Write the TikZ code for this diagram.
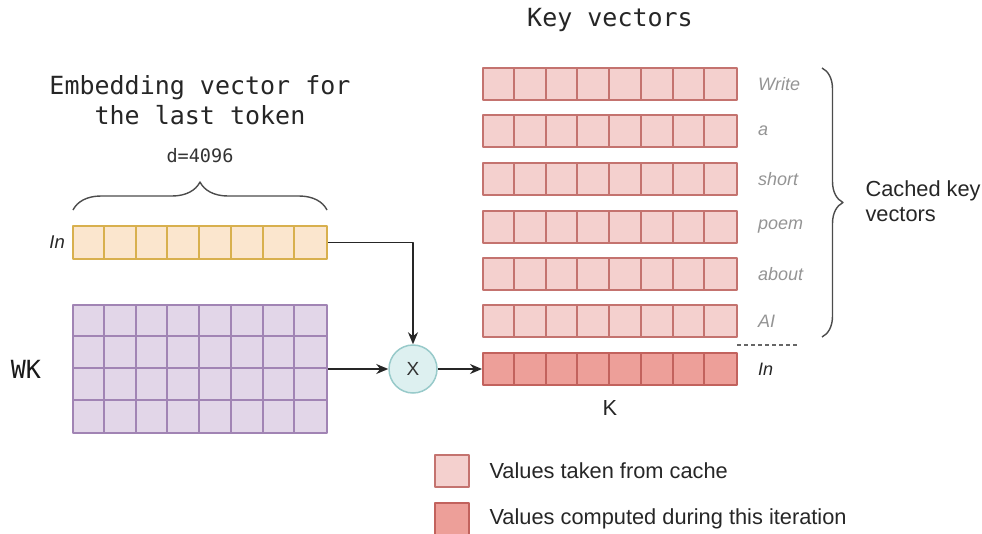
\documentclass[tikz,border=0pt]{standalone}
\usepackage{fontspec}
\setmainfont{Liberation Sans}
\setmonofont{DejaVu Sans Mono}
\usetikzlibrary{arrows.meta,decorations.pathreplacing,calc,positioning}

\definecolor{inFill}{HTML}{FBE6CE}
\definecolor{inLine}{HTML}{D8B04E}
\definecolor{wkFill}{HTML}{E2D6E8}
\definecolor{wkLine}{HTML}{A184B4}
\definecolor{cacheFill}{HTML}{F4D0CE}
\definecolor{cacheLine}{HTML}{C4736F}
\definecolor{newFill}{HTML}{ED9F99}
\definecolor{newLine}{HTML}{C2625D}
\definecolor{multFill}{HTML}{DDF0F0}
\definecolor{multLine}{HTML}{98CACA}

\begin{document}
\begin{tikzpicture}[x=1pt, y=-1pt, line join=round,
    vec/.style={draw, line width=2pt, minimum width=254pt, minimum height=32pt, inner sep=0pt},
    invec/.style={vec, fill=inFill, draw=inLine},
    cached/.style={vec, fill=cacheFill, draw=cacheLine},
    fresh/.style={vec, fill=newFill, draw=newLine},
    token/.style={text=black!42, font=\fontsize{18}{20}\selectfont\itshape, inner sep=0pt},
    title/.style={font=\fontsize{25}{30}\selectfont\ttfamily, align=center, text=black!85},
    plain/.style={font=\fontsize{21.8}{25}\selectfont},
    arr/.style={-{Stealth[length=12pt,width=10pt]}, line width=1.7pt, black!85}]
  \useasboundingbox (0,0) rectangle (982,533);

  % input vector and its brace
  \node[invec, minimum height=33pt] (in) at (200,242.5) {};
  \foreach \c in {1,...,7}
    \draw[inLine, line width=2pt] ($(in.north west)+(\c*31.75,0)$) -- ($(in.south west)+(\c*31.75,0)$);
  \node[font=\fontsize{18.5}{20}\selectfont\itshape, left=7pt of in, inner sep=0pt, text=black!85] (inlbl) {In};
  \draw[black!70, line width=1.4pt, decorate, decoration={brace, amplitude=28pt}]
    (73,210) -- (327,210);
  \node[font=\fontsize{18.5}{20}\selectfont\ttfamily, text=black!80] (dim) at (200,156) {d=4096};
  \node[title] (emb) at (200,100) {Embedding vector for\\the last token};

  % weight matrix
  \node[vec, fill=wkFill, draw=wkLine, minimum height=128pt] (wk) at (200,369) {};
  \foreach \c in {1,...,7}
    \draw[wkLine, line width=2pt] ($(wk.north west)+(\c*31.75,0)$) -- ($(wk.south west)+(\c*31.75,0)$);
  \foreach \r in {1,2,3}
    \draw[wkLine, line width=2pt] ($(wk.north west)+(0,\r*32)$) -- ($(wk.north east)+(0,\r*32)$);
  \node[font=\fontsize{25}{30}\selectfont\ttfamily, text=black!90] (wklbl) at (26,369) {WK};

  % multiplication
  \node[circle, draw=multLine, fill=multFill, line width=1.5pt, minimum size=48pt,
        font=\fontsize{19}{20}\selectfont, text=black!80] (mult) at (413,369) {X};

  % key vectors
  \node[title] (keys) at (610,20) {Key vectors};
  \foreach \n/\y/\w in {1/84/Write, 2/131/a, 3/179/short, 4/227/poem, 5/274/about, 6/321/AI} {
    \node[cached] (key\n) at (610,\y) {};
    \foreach \c in {1,...,7}
      \draw[cacheLine, line width=2pt] ($(key\n.north west)+(\c*31.75,0)$) -- ($(key\n.south west)+(\c*31.75,0)$);
    \node[token, right=20pt of key\n] (tok\n) {\w};
  }
  \node[fresh] (key7) at (610,369) {};
  \foreach \c in {1,...,7}
    \draw[newLine, line width=2pt] ($(key7.north west)+(\c*31.75,0)$) -- ($(key7.south west)+(\c*31.75,0)$);
  \node[font=\fontsize{18}{20}\selectfont\itshape, inner sep=0pt, right=20pt of key7, text=black!85] (tok7) {In};
  \node[plain, text=black!85] (klbl) at (610,408) {K};
  \draw[black!60, line width=1.2pt, dash pattern=on 4pt off 3pt] (737,345) -- (798,345);

  % cached part
  \draw[black!70, line width=1.4pt, decorate, decoration={brace, amplitude=21pt}]
    (822,68) -- (822,337);
  \node[plain, align=left, anchor=west, text=black!85] (cachelbl) at (862,201) {Cached key\\vectors};

  % connectors
  \draw[arr] (in.east) -| (mult.north);
  \draw[arr] (wk.east) -- (mult.west);
  \draw[arr] (mult.east) -- (key7.west);

  % legend
  \node[draw=cacheLine, fill=cacheFill, line width=2pt, minimum width=34pt, minimum height=32pt] (legold) at (452,471) {};
  \node[draw=newLine, fill=newFill, line width=2pt, minimum width=34pt, minimum height=32pt] (legnew) at (452,519) {};
  \node[plain, right=16pt of legold, text=black!85] (oldtxt) {Values taken from cache};
  \node[plain, right=16pt of legnew, text=black!85] (newtxt) {Values computed during this iteration};
\end{tikzpicture}
\end{document}
